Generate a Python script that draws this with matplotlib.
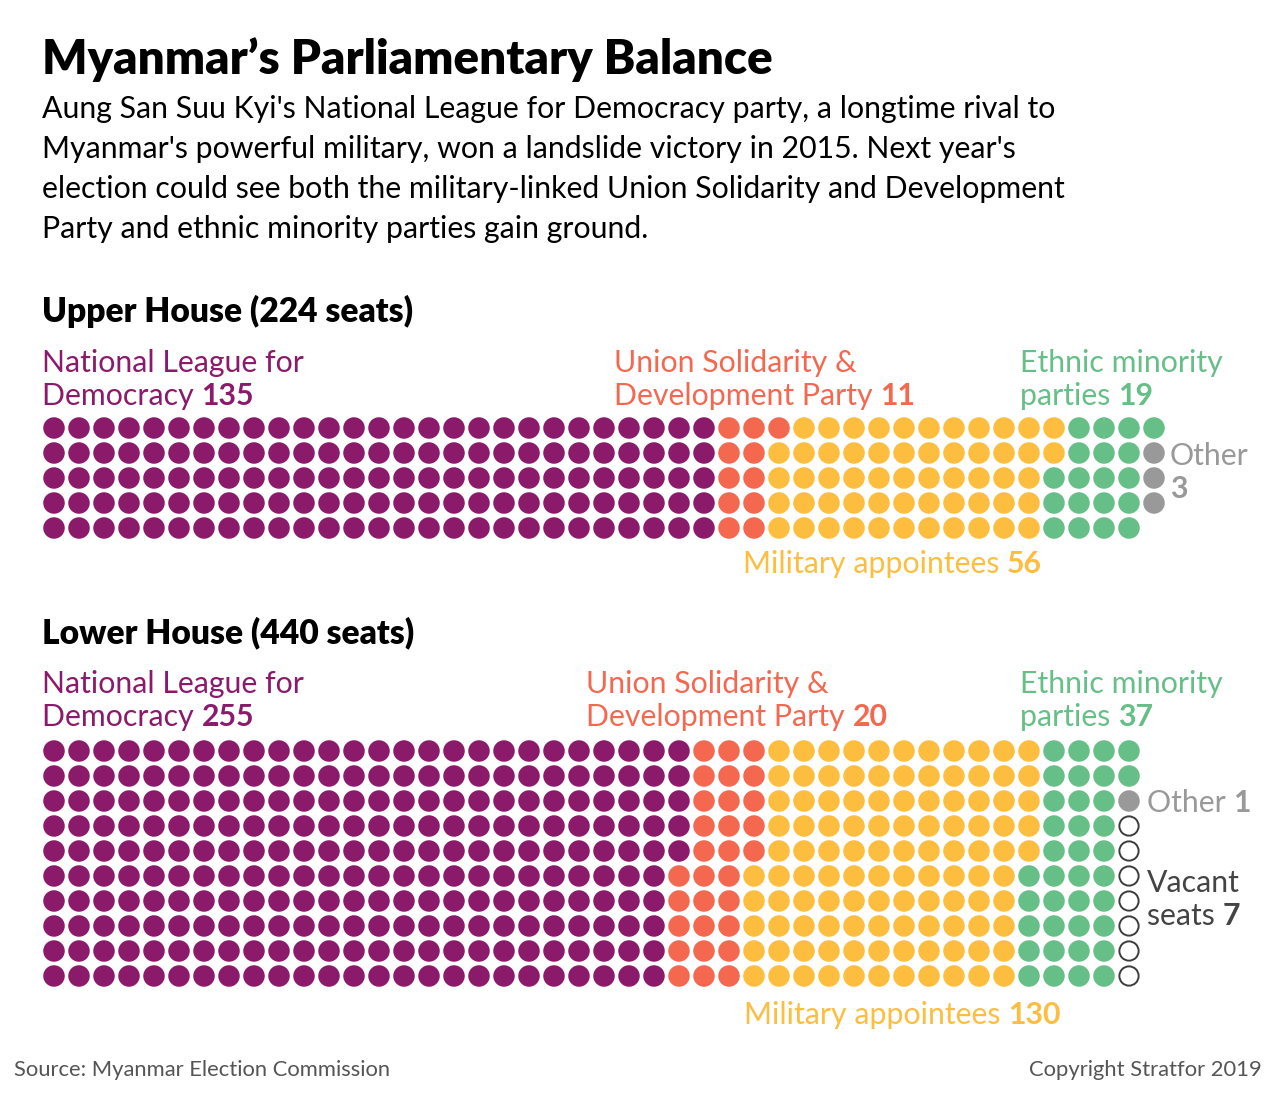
import math
import matplotlib
matplotlib.use("Agg")
import matplotlib.pyplot as plt
from matplotlib.patches import Circle

# ---------------- data ----------------
upper_parties = ["National League for Democracy", "Union Solidarity & Development Party",
                 "Military appointees", "Ethnic minority parties", "Other"]
upper_seats = [135, 11, 56, 19, 3]
upper_rows = 5

lower_parties = ["National League for Democracy", "Union Solidarity & Development Party",
                 "Military appointees", "Ethnic minority parties", "Other", "Vacant seats"]
lower_seats = [255, 30, 110, 37, 1, 7]          # dots as drawn in the chart
lower_label_values = [255, 20, 130, 37, 1, 7]   # numbers as printed in the labels
lower_rows = 10

party_colors = {
    "National League for Democracy": "#8B1A6B",
    "Union Solidarity & Development Party": "#F4684F",
    "Military appointees": "#FDBD3E",
    "Ethnic minority parties": "#66BF87",
    "Other": "#999999",
    "Vacant seats": "white",
}

title = "Myanmar\u2019s Parliamentary Balance"
subtitle = ["Aung San Suu Kyi's National League for Democracy party, a longtime rival to",
            "Myanmar's powerful military, won a landslide victory in 2015. Next year's",
            "election could see both the military-linked Union Solidarity and Development",
            "Party and ethnic minority parties gain ground."]
source = "Source: Myanmar Election Commission"
copyright_txt = "Copyright Stratfor 2019"

# ---------------- figure ----------------
W, H, DPI = 1280, 1097, 100
FONT = ["Lato", "DejaVu Sans"]
PT = 72.0 / DPI
fig = plt.figure(figsize=(W / DPI, H / DPI), dpi=DPI)
fig.patch.set_facecolor("white")
ax = fig.add_axes([0, 0, 1, 1])
ax.set_xlim(0, W)
ax.set_ylim(H, 0)
ax.axis("off")
renderer = fig.canvas.get_renderer()

SP = 25  # pixel pitch between dots


def waffle(x0, y0, parties, seats, rows):
    total = sum(seats)
    ncols = math.ceil(total / rows)
    a = fig.add_axes([(x0 - SP / 2) / W, 1 - (y0 - SP / 2 + rows * SP) / H,
                      ncols * SP / W, rows * SP / H])
    a.set_xlim(-0.5, ncols - 0.5)
    a.set_ylim(rows - 0.5, -0.5)
    a.axis("off")
    idx = 0
    for p, n in zip(parties, seats):
        for _ in range(n):
            c, r = divmod(idx, rows)
            if p == "Vacant seats":
                a.add_patch(Circle((c, r), 0.385, facecolor="white",
                                   edgecolor="#3c3c3c", lw=1.4))
            else:
                a.add_patch(Circle((c, r), 0.43, facecolor=party_colors[p],
                                   edgecolor="none"))
            idx += 1
    return a


def mixed(x, y, parts, size, color):
    cur = x
    for s, wgt in parts:
        t = ax.text(cur, y, s, fontsize=size * PT, color=color, fontweight=wgt,
                    family=FONT, ha="left", va="baseline")
        cur += t.get_window_extent(renderer=renderer).width


# title & subtitle
ax.text(42, 74, title, fontsize=47.5 * PT, fontweight="heavy", family=FONT,
        color="black", ha="left", va="baseline")
for i, line in enumerate(subtitle):
    ax.text(42, 118 + 40 * i, line, fontsize=30.3 * PT, family=FONT,
            color="black", ha="left", va="baseline")

LS = 30.2  # label font px
HS = 33.5  # section heading px

# ---------- Upper house ----------
ax.text(42, 322, f"Upper House ({sum(upper_seats)} seats)", fontsize=HS * PT,
        fontweight="heavy", family=FONT, color="black", ha="left", va="baseline")
waffle(54, 428, upper_parties, upper_seats, upper_rows)
c = party_colors
mixed(42, 372, [("National League for", "normal")], LS, c[upper_parties[0]])
mixed(42, 405, [("Democracy ", "normal"), (str(upper_seats[0]), "bold")], LS, c[upper_parties[0]])
mixed(614, 372, [("Union Solidarity &", "normal")], LS, c[upper_parties[1]])
mixed(614, 405, [("Development Party ", "normal"), (str(upper_seats[1]), "bold")], LS, c[upper_parties[1]])
mixed(1020, 372, [("Ethnic minority", "normal")], LS, c[upper_parties[3]])
mixed(1020, 405, [("parties ", "normal"), (str(upper_seats[3]), "bold")], LS, c[upper_parties[3]])
mixed(1170, 465, [("Other", "normal")], LS, c["Other"])
mixed(1170, 498, [(str(upper_seats[4]), "bold")], LS, c["Other"])
mixed(743, 573, [("Military appointees ", "normal"), (str(upper_seats[2]), "bold")], LS, c[upper_parties[2]])

# ---------- Lower house ----------
ax.text(42, 643, "Lower House (440 seats)", fontsize=HS * PT,
        fontweight="heavy", family=FONT, color="black", ha="left", va="baseline")
waffle(54, 751, lower_parties, lower_seats, lower_rows)
mixed(42, 693, [("National League for", "normal")], LS, c[lower_parties[0]])
mixed(42, 726, [("Democracy ", "normal"), (str(lower_label_values[0]), "bold")], LS, c[lower_parties[0]])
mixed(586, 693, [("Union Solidarity &", "normal")], LS, c[lower_parties[1]])
mixed(586, 726, [("Development Party ", "normal"), (str(lower_label_values[1]), "bold")], LS, c[lower_parties[1]])
mixed(1020, 693, [("Ethnic minority", "normal")], LS, c[lower_parties[3]])
mixed(1020, 726, [("parties ", "normal"), (str(lower_label_values[3]), "bold")], LS, c[lower_parties[3]])
mixed(1147, 812, [("Other ", "normal"), (str(lower_label_values[4]), "bold")], LS, c["Other"])
mixed(1147, 892, [("Vacant", "normal")], LS, "#444444")
mixed(1147, 925, [("seats ", "normal"), (str(lower_label_values[5]), "bold")], LS, "#444444")
mixed(744, 1024, [("Military appointees ", "normal"), (str(lower_label_values[2]), "bold")], LS, c[lower_parties[2]])

# footer
ax.text(14, 1076, source, fontsize=22 * PT, family=FONT, color="#555555",
        ha="left", va="baseline")
ax.text(1262, 1076, copyright_txt, fontsize=22 * PT, family=FONT, color="#555555",
        ha="right", va="baseline")

fig.savefig("out.png", dpi=DPI, facecolor="white")
